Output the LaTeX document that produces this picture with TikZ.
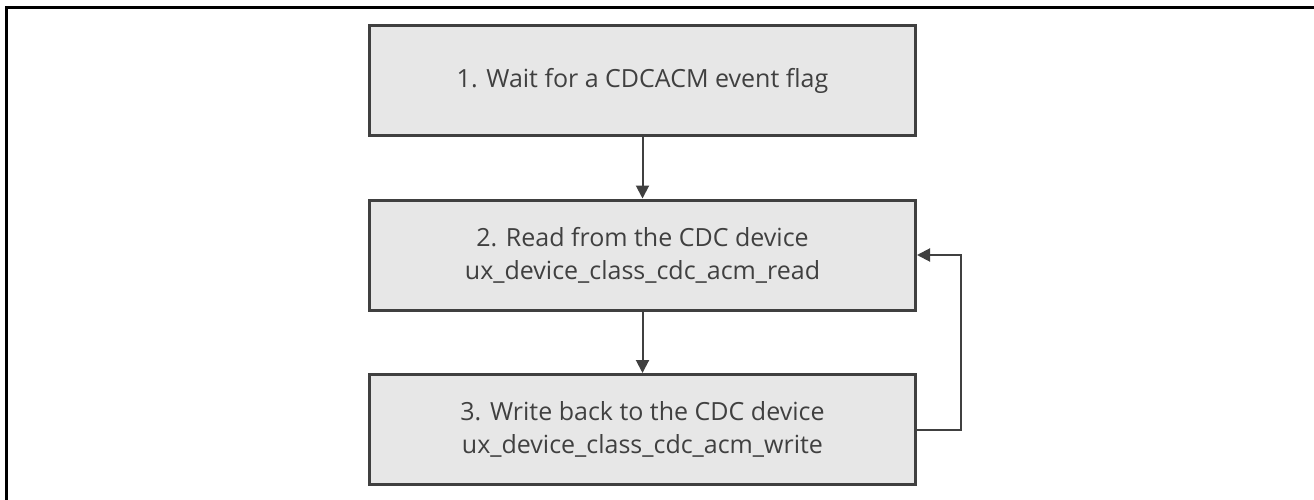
\documentclass[tikz,border=0pt]{standalone}
\usepackage{fontspec}
\setmainfont{Open Sans}
\usepackage{tikz}
\usetikzlibrary{arrows.meta}

\definecolor{boxfill}{HTML}{E7E7E7}
\definecolor{boxline}{HTML}{404040}

\begin{document}
\begin{tikzpicture}[->,>={Triangle[length=13pt,width=13pt]},node distance=174.5pt,
  line width=2pt,draw=boxline,
  main node/.style={draw=boxline,fill=boxfill,line width=3pt,minimum width=546pt,minimum height=110pt,
    align=center,text=boxline,font=\fontsize{25}{33}\selectfont}]

  \useasboundingbox (0,0) rectangle (1314pt,-500pt);
  \draw[-,line width=3pt,black] (6.5pt,-500pt) -- (6.5pt,-7.5pt) -- (1314pt,-7.5pt);

  \node[main node] (1) at (642.5pt,-80.5pt) {1. Wait for a CDCACM event flag};
  \node[main node] (2) [below of=1] {2. Read from the CDC device\\ ux\_device\_class\_cdc\_acm\_read};
  \node[main node] (3) [below of=2] {3. Write back to the CDC device\\ ux\_device\_class\_cdc\_acm\_write};

  \draw[boxline] (1) -- (2);
  \draw[boxline] (2) -- (3);
  \draw[boxline] (3.east) -- ++(44pt,0) |- (2.east);
\end{tikzpicture}
\end{document}
